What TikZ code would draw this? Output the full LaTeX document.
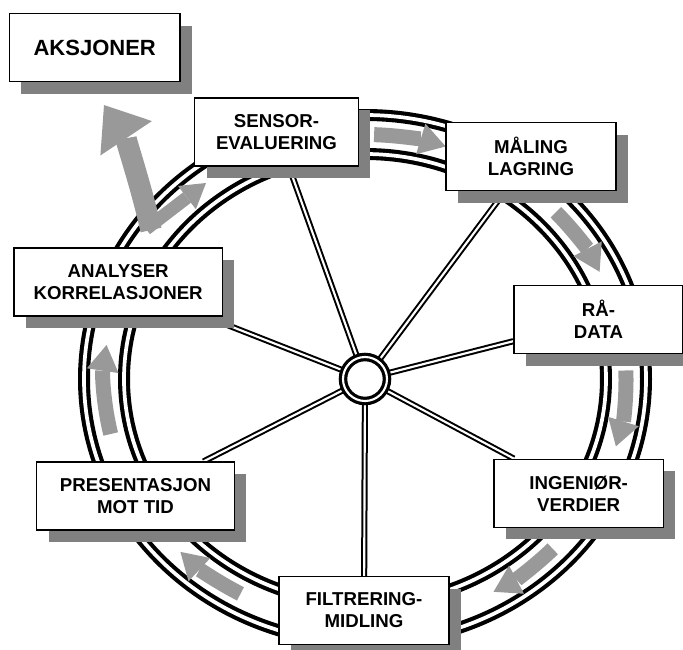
\documentclass[tikz,border=0pt]{standalone}
\usepackage{fontspec}
\setmainfont{Liberation Sans}
\usepackage{tikz}
\usetikzlibrary{arrows.meta}
\usetikzlibrary{shadows}
\usetikzlibrary{backgrounds}

\definecolor{shadowgray}{RGB}{128,128,128}
\definecolor{flowgray}{RGB}{153,153,153}

\tikzset{
  box/.style={draw=black, fill=white, line width=1.1pt, inner sep=0pt,
    minimum width=127.5pt, minimum height=51pt, align=center,
    font=\bfseries\fontsize{14}{16.5}\selectfont,
    drop shadow={shadow xshift=9pt, shadow yshift=-9pt, fill=shadowgray, opacity=1}},
  bigbox/.style={box, font=\bfseries\fontsize{16.5}{19}\selectfont},
  hub/.style={circle, draw=black, fill=white, line width=2.4pt, double=white,
    double distance=1.6pt, minimum size=33pt, inner sep=0pt, outer sep=0pt},
  rim/.style={draw=black, line width=3.1pt, double=white, double distance=2.8pt},
  spoke/.style={draw=black, line width=1.5pt, double=white, double distance=1.6pt},
  flow/.style={draw=flowgray, line width=11.25pt,
    -{Triangle[width=24pt,length=19.5pt,line width=0pt]}},
}

\begin{document}
\begin{tikzpicture}[x=0.75pt,y=0.75pt,yscale=-1,xscale=1]
\useasboundingbox (0,0) rectangle (683,650);

%Hub
\node[hub] (hub) at (365,379) {};

% Text Node
\node[bigbox, minimum width=128pt] (aksjoner) at (94.7,47.5) {AKSJONER};
% Text Node
\node[box, minimum width=122.8pt] (sensor) at (276.5,132) {SENSOR-\\EVALUERING};
% Text Node
\node[box] (maaling) at (531,156.5) {MÅLING\\LAGRING};
% Text Node
\node[box, minimum width=126.75pt] (raadata) at (598.5,319.5) {RÅ-\\DATA};
% Text Node
\node[box, minimum width=127pt] (ingenior) at (578.7,493.3) {INGENIØR-\\VERDIER};
% Text Node
\node[box, minimum width=127.2pt] (filtrering) at (364,610.5) {FILTRERING-\\MIDLING};
% Text Node
\node[box, minimum width=148.2pt] (presentasjon) at (135.5,496.2) {PRESENTASJON\\MOT TID};
% Text Node
\node[box, minimum width=156.2pt] (analyser) at (118.2,282.2) {ANALYSER\\KORRELASJONER};

\coordinate (fork) at (151,230);
\coordinate (forkb) at (146,229);
\coordinate (acttip) at (104,105);
\coordinate (senstip) at (206,183);

\begin{scope}[on background layer]
%Spokes
\foreach \b in {sensor,maaling,raadata,ingenior,filtrering,presentasjon,analyser}
  \draw[spoke] (hub) -- (\b);
%Rim
\draw[rim] (hub.center) ellipse [x radius=281, y radius=264];
\draw[rim] (hub.center) ellipse [x radius=241, y radius=225];
%Arrows round the rim
\foreach \s/\e in {-88/-72, -43/-26, -2/16, 44/60.5, -241.5/-225, -193/-172}
  \draw[flow] (hub.center) ++(\s:261 and 244.5) arc[start angle=\s, end angle=\e, x radius=261, y radius=244.5];
%Fork to AKSJONER
\draw[draw=flowgray, line width=16pt, -{Triangle[width=46.5pt,length=30pt,line width=0pt]}]
  (fork) .. controls (141,185) and (124,135) .. (acttip);
\draw[draw=flowgray, line width=9.75pt, -{Triangle[width=22pt,length=18pt,line width=0pt]}]
  (forkb) -- (senstip);
\end{scope}

\end{tikzpicture}
\end{document}
